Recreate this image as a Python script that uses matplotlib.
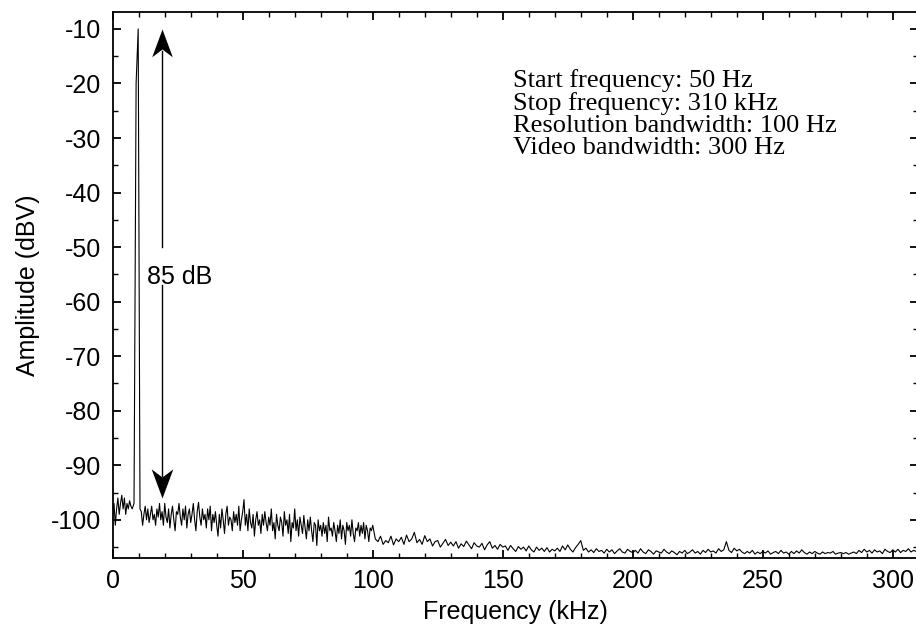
import numpy as np
import matplotlib
matplotlib.use("Agg")
import matplotlib.pyplot as plt
from matplotlib.path import Path
from matplotlib.ticker import MultipleLocator

# spectrum values (dBV)
f_low = np.arange(0.0, 8.0, 0.5)
a_low = [-99, -97, -101, -98, -96, -99, -97, -95.5, -98, -96, -99, -97, -98, -96.5, -97.5, -98]

f_peak = [8.2, 9.0, 9.8, 10.5]
a_peak = [-97, -20, -10, -98]

f_mid = np.arange(11.0, 100.01, 0.5)
a_mid = [
    -98.5, -101, -99, -97.5, -100, -98, -100.5, -99, -97.5, -100,
    -99, -101, -98, -99.5, -97, -100, -98.5, -101, -97, -99.5,
    -100.5, -98, -101.5, -99, -97.5, -100, -102, -98.5, -99, -97,
    -99.5, -101, -98, -100, -97.5, -101.5, -99, -98, -100.5, -99,
    -97, -100, -102, -98.5, -96.8, -99.5, -101, -98, -100, -99,
    -101.5, -98, -100, -97.5, -102, -99, -100.5, -98.5, -101, -103,
    -99, -101.5, -98, -100, -102.5, -99, -97.5, -101, -99.5, -100,
    -102, -98.5, -100.5, -99, -101, -97.5, -102, -100, -98.5, -96.3,
    -101, -99, -102, -98, -100.5, -101.5, -99, -103, -100, -98.5,
    -101, -100, -102.5, -99, -101, -98.5, -100.5, -102, -99.5, -101,
    -98, -102, -100.5, -103.5, -99, -101, -102, -99.5, -100.5, -103,
    -98.5, -101, -100, -102.5, -99, -104, -100.5, -101.5, -98, -102,
    -100, -103, -99.5, -101, -102.5, -99.2, -101.5, -103.5, -100, -102,
    -99.5, -102, -104, -100.5, -101, -104.7, -100, -102, -101, -103,
    -100.5, -102.5, -101, -104, -99.5, -102, -101.5, -103, -100.5, -102,
    -104, -101, -102.5, -100, -103.5, -101, -102, -104.5, -100.5, -102,
    -101, -103, -100, -102.5, -104, -101.5, -102, -100.5, -103, -101,
    -102.5, -100.5, -103.5, -101, -102, -104, -101.5, -102, -101,
]

f_high = np.arange(101.0, 309.5, 1.0)
a_high = [
    -103.5, -104, -103, -104.5, -103.8, -104.2, -103, -104.6, -103.5, -104,
    -103.2, -104.5, -102.8, -104, -103.5, -102.3, -104.2, -103.6, -104.5, -102.9,
    -104, -103.5, -104.8, -104, -103.8, -105, -104.3, -103.6, -104.7, -104.1,
    -104.8, -104, -105.2, -104.4, -104.9, -103.9, -104.6, -105.3, -104.2, -104.8,
    -105, -104.3, -105.5, -104.6, -104, -105.2, -104.7, -105.4, -104.5, -105,
    -104.8, -105.6, -104.7, -105.3, -105.8, -104.9, -105.4, -105, -105.7, -104.8,
    -105.5, -105.9, -105, -105.6, -105.2, -105.8, -105.1, -105.9, -105.4, -105.7,
    -105.2, -105.8, -104.8, -105.5, -104.6, -105.4, -105.9, -105.1, -104.5, -103.8,
    -105.6, -105.2, -105.9, -105.5, -106, -105.3, -105.8, -105.6, -106.1, -105.4,
    -105.9, -105.5, -106.2, -105.7, -105.3, -105.9, -106.1, -105.4, -105.8, -106,
    -105.6, -106.1, -105.3, -105.9, -106.2, -105.5, -105.8, -106.3, -105.7, -105.9,
    -106.1, -105.4, -105.9, -106.2, -105.7, -106, -106.4, -105.8, -106.1, -105.6,
    -106.2, -105.9, -105.5, -106.1, -105.8, -106.3, -105.6, -106, -105.4, -105.9,
    -105.7, -106.1, -105.3, -105.8, -105.5, -104, -105.6, -106, -105.2, -105.7,
    -105.4, -105.9, -106.2, -105.8, -106.1, -105.6, -106.3, -105.9, -106.2, -105.8,
    -106.1, -105.7, -106.3, -106, -105.8, -106.2, -105.6, -106.1, -105.9, -106.3,
    -105.8, -106.2, -105.7, -106.1, -105.5, -106, -106.3, -105.9, -106.2, -105.8,
    -106.1, -106.3, -105.9, -106.2, -106, -106.1, -105.8, -106.3, -106.1, -106,
    -106.2, -106, -106.3, -106.1, -105.9, -106.2, -105.6, -106, -105.4, -105.9,
    -105.6, -106.1, -105.5, -105.9, -105.7, -106.2, -105.4, -105.8, -106, -105.5,
    -105.9, -105.4, -106, -105.6, -105.8, -105.3, -105.9, -105.6, -105.8,
]

freq = np.concatenate([f_low, f_peak, f_mid, f_high])
amp = np.concatenate([a_low, a_peak, a_mid, a_high])

settings = ["Start frequency: 50 Hz", "Stop frequency: 310 kHz",
            "Resolution bandwidth: 100 Hz", "Video bandwidth: 300 Hz"]

plt.rcParams['font.family'] = ['Liberation Sans', 'DejaVu Sans']
plt.rcParams['axes.unicode_minus'] = False

fig = plt.figure(figsize=(9.16, 6.33), dpi=100)
ax = fig.add_axes([112.7 / 916, 1 - 558 / 633, (918 - 112.7) / 916, (558 - 12) / 633])

ax.plot(freq, amp, color='black', lw=0.8)

ax.set_xlim(0, 309.7)
ax.set_ylim(-107, -6.9)
ax.xaxis.set_major_locator(MultipleLocator(50))
ax.xaxis.set_minor_locator(MultipleLocator(10))
ax.yaxis.set_major_locator(MultipleLocator(10))
ax.yaxis.set_minor_locator(MultipleLocator(5))
ax.tick_params(which='both', direction='in', top=True, right=True, labelsize=18)
ax.tick_params(which='major', length=6, width=1.3, pad=8)
ax.tick_params(which='minor', length=3.5, width=1.0)
for s in ax.spines.values():
    s.set_linewidth(1.3)

ax.set_xlabel("Frequency (kHz)", fontsize=18, labelpad=5)
ax.set_ylabel("Amplitude (dBV)", fontsize=18, labelpad=8)

# 85 dB arrow
head = Path([(0, 0), (-0.37, -1), (0, -0.72), (0.37, -1), (0, 0)],
            [Path.MOVETO, Path.LINETO, Path.LINETO, Path.LINETO, Path.CLOSEPOLY])
head_dn = Path([(0, 0), (-0.37, 1), (0, 0.72), (0.37, 1), (0, 0)],
               [Path.MOVETO, Path.LINETO, Path.LINETO, Path.LINETO, Path.CLOSEPOLY])
ax.plot([19, 19], [-50, -14], color='black', lw=1)
ax.plot([19, 19], [-57, -92], color='black', lw=1)
ax.plot(19, -10, marker=head, ms=40, color='black', mew=0)
ax.plot(19, -96, marker=head_dn, ms=42, color='black', mew=0)
ax.text(13.2, -55.5, "85 dB", fontsize=18, va='center', ha='left')

ax.text(0.497, 0.895, "\n".join(settings), transform=ax.transAxes,
        family=['Liberation Serif', 'DejaVu Serif'], fontsize=19,
        va='top', ha='left', linespacing=1.0)

fig.savefig('out.png', dpi=100)
